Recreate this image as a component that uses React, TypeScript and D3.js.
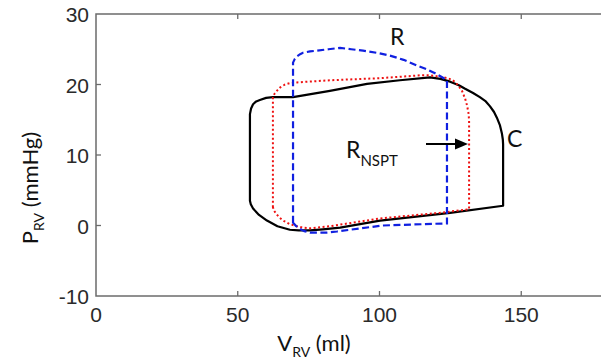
import React, { useEffect, useRef } from 'react';
import * as d3 from 'd3';

// pressure-volume loops, [volume ml, pressure mmHg], clockwise from lower left
const loopC = [
  [54.3, 3.5], [54.3, 15.8], [54.7, 16.6], [55.4, 17.2], [56.5, 17.6], [57.8, 17.8],
  [60.0, 18.1], [62.4, 18.2], [69.5, 18.2], [82.5, 19.1], [95.6, 20.1], [107.2, 20.6],
  [117.8, 21.0], [121.5, 20.8], [124.9, 20.4], [128.0, 19.9], [130.2, 19.4], [133.0, 18.8],
  [135.4, 18.2], [137.5, 17.6], [139.0, 16.9], [140.4, 16.1], [141.4, 15.3], [142.5, 14.2],
  [143.2, 13.0], [143.5, 12.2], [143.6, 11.5], [143.6, 2.8], [124.9, 1.8], [100.2, 0.7],
  [86.1, -0.3], [80.0, -0.55], [75.5, -0.7], [71.5, -0.7], [68.4, -0.6], [64.0, -0.1],
  [60.3, 0.7], [57.5, 1.5], [55.4, 2.4], [54.6, 3.0],
];
const loopR = [
  [69.5, 0.4], [69.5, 23.1], [70.1, 23.6], [70.9, 24.0], [72.0, 24.3], [73.0, 24.5],
  [75.5, 24.7], [78.0, 24.8], [82.0, 25.0], [86.1, 25.2], [90.0, 25.0], [94.2, 24.8],
  [99.0, 24.5], [103.7, 24.1], [108.5, 23.5], [113.2, 22.7], [116.5, 22.2], [119.6, 21.6],
  [121.8, 21.1], [123.8, 20.6], [123.8, 0.3], [101.2, 0.0], [89.6, -0.6], [85.0, -0.85],
  [81.5, -1.0], [75.5, -1.0], [73.5, -0.8], [72.0, -0.5], [70.5, -0.05],
];
const loopNSPT = [
  [62.4, 2.6], [62.4, 18.2], [63.0, 18.7], [63.8, 19.1], [65.0, 19.6], [66.7, 20.0],
  [68.5, 20.2], [70.9, 20.3], [82.5, 20.6], [100.2, 20.9], [114.3, 21.3], [118.0, 21.3],
  [121.3, 21.1], [124.0, 20.9], [125.9, 20.6], [127.7, 19.9], [129.1, 19.1], [130.2, 18.0],
  [130.9, 17.0], [131.4, 15.9], [131.6, 14.9], [131.6, 2.3], [121.3, 1.8], [100.2, 1.0],
  [82.5, -0.1], [75.5, -0.4], [72.8, -0.3], [70.9, -0.1], [68.3, 0.2], [66.0, 0.7],
  [64.5, 1.2], [63.5, 1.7], [62.8, 2.1],
];

const xTicks = [0, 50, 100, 150];
const yTicks = [-10, 0, 10, 20, 30];

function PVLoops() {
  const ref = useRef(null);
  const width = 601;
  const height = 360;
  const margin = { top: 14, left: 96, bottom: 64 };

  useEffect(() => {
    d3.select(ref.current).selectAll('*').remove();
    const svg = d3.select(ref.current);

    const x = d3.scaleLinear().domain([0, 180]).range([margin.left, margin.left + 180 * 2.835]);
    const y = d3.scaleLinear().domain([-10, 30]).range([height - margin.bottom, margin.top]);
    const [x0, x1] = x.range();
    const [yb, yt] = y.range();

    // axes box
    svg.append('rect')
      .attr('x', x0).attr('y', yt)
      .attr('width', x1 - x0).attr('height', yb - yt)
      .attr('fill', 'none').attr('stroke', '#6b6b6b').attr('stroke-width', 1.5);

    xTicks.slice(1).forEach((t) => {
      svg.append('line').attr('x1', x(t)).attr('x2', x(t)).attr('y1', yb).attr('y2', yb - 5)
        .attr('stroke', '#6b6b6b').attr('stroke-width', 1.3);
      svg.append('line').attr('x1', x(t)).attr('x2', x(t)).attr('y1', yt).attr('y2', yt + 5)
        .attr('stroke', '#6b6b6b').attr('stroke-width', 1.3);
    });
    yTicks.slice(1, -1).forEach((t) => {
      svg.append('line').attr('x1', x0).attr('x2', x0 + 5).attr('y1', y(t)).attr('y2', y(t))
        .attr('stroke', '#6b6b6b').attr('stroke-width', 1.3);
      svg.append('line').attr('x1', x1).attr('x2', x1 - 5).attr('y1', y(t)).attr('y2', y(t))
        .attr('stroke', '#9a9a9a').attr('stroke-width', 1.3);
    });

    svg.selectAll('.xt').data(xTicks).enter().append('text')
      .attr('x', (d) => x(d)).attr('y', yb + 26)
      .attr('text-anchor', 'middle')
      .style('font-family', 'Liberation Sans, Arial, sans-serif').style('font-size', '21px')
      .attr('fill', '#2a2a2a').text((d) => d);

    svg.selectAll('.yt').data(yTicks).enter().append('text')
      .attr('x', x0 - 7).attr('y', (d) => y(d) + 8)
      .attr('text-anchor', 'end')
      .style('font-family', 'Liberation Sans, Arial, sans-serif').style('font-size', '21px')
      .attr('fill', '#2a2a2a').text((d) => d);

    const line = d3.line()
      .x((d) => x(d[0]))
      .y((d) => y(d[1]))
      .curve(d3.curveLinearClosed);

    svg.append('path').datum(loopC).attr('d', line)
      .attr('fill', 'none').attr('stroke', '#000').attr('stroke-width', 2.2)
      .attr('stroke-linejoin', 'round');
    svg.append('path').datum(loopNSPT).attr('d', line)
      .attr('fill', 'none').attr('stroke', '#ee1111').attr('stroke-width', 2)
      .attr('stroke-dasharray', '2,2.5');
    svg.append('path').datum(loopR).attr('d', line)
      .attr('fill', 'none').attr('stroke', '#1020e0').attr('stroke-width', 2.2)
      .attr('stroke-dasharray', '7,3.5');

    const lab = 'Lato, Open Sans, sans-serif';
    svg.append('text').attr('x', 390).attr('y', 45)
      .style('font-family', lab).style('font-size', '23px').attr('fill', '#111').text('R');
    svg.append('text').attr('x', 507).attr('y', 147)
      .style('font-family', lab).style('font-size', '23px').attr('fill', '#111').text('C');

    const rn = svg.append('text').attr('x', 346).attr('y', 158)
      .style('font-family', lab).style('font-size', '23px').attr('fill', '#111');
    rn.append('tspan').text('R');
    rn.append('tspan').attr('dy', 8).style('font-size', '15px').text('NSPT');

    // arrow
    svg.append('line').attr('x1', 426).attr('x2', 458).attr('y1', 144).attr('y2', 144)
      .attr('stroke', '#000').attr('stroke-width', 2);
    svg.append('path').attr('d', 'M455,138.5 L468,144 L455,149.5 Z').attr('fill', '#000');

    // axis titles
    const xl = svg.append('text').attr('x', 314).attr('y', 351)
      .attr('text-anchor', 'middle')
      .style('font-family', lab).style('font-size', '22px').attr('fill', '#111');
    xl.append('tspan').text('V');
    xl.append('tspan').attr('dy', 6).style('font-size', '14px').text('RV');
    xl.append('tspan').attr('dy', -6).text(' (ml)');

    const yl = svg.append('text')
      .attr('transform', 'translate(38,188) rotate(-90)')
      .attr('text-anchor', 'middle')
      .style('font-family', lab).style('font-size', '22px').attr('fill', '#111');
    yl.append('tspan').text('P');
    yl.append('tspan').attr('dy', 6).style('font-size', '14px').text('RV');
    yl.append('tspan').attr('dy', -6).text(' (mmHg)');
  }, []);

  return (
    <svg
      ref={ref}
      width={width}
      height={height}
      style={{ position: 'absolute', left: 0, top: 0, background: '#fff' }}
    />
  );
}

export default function App() {
  return <PVLoops />;
}
